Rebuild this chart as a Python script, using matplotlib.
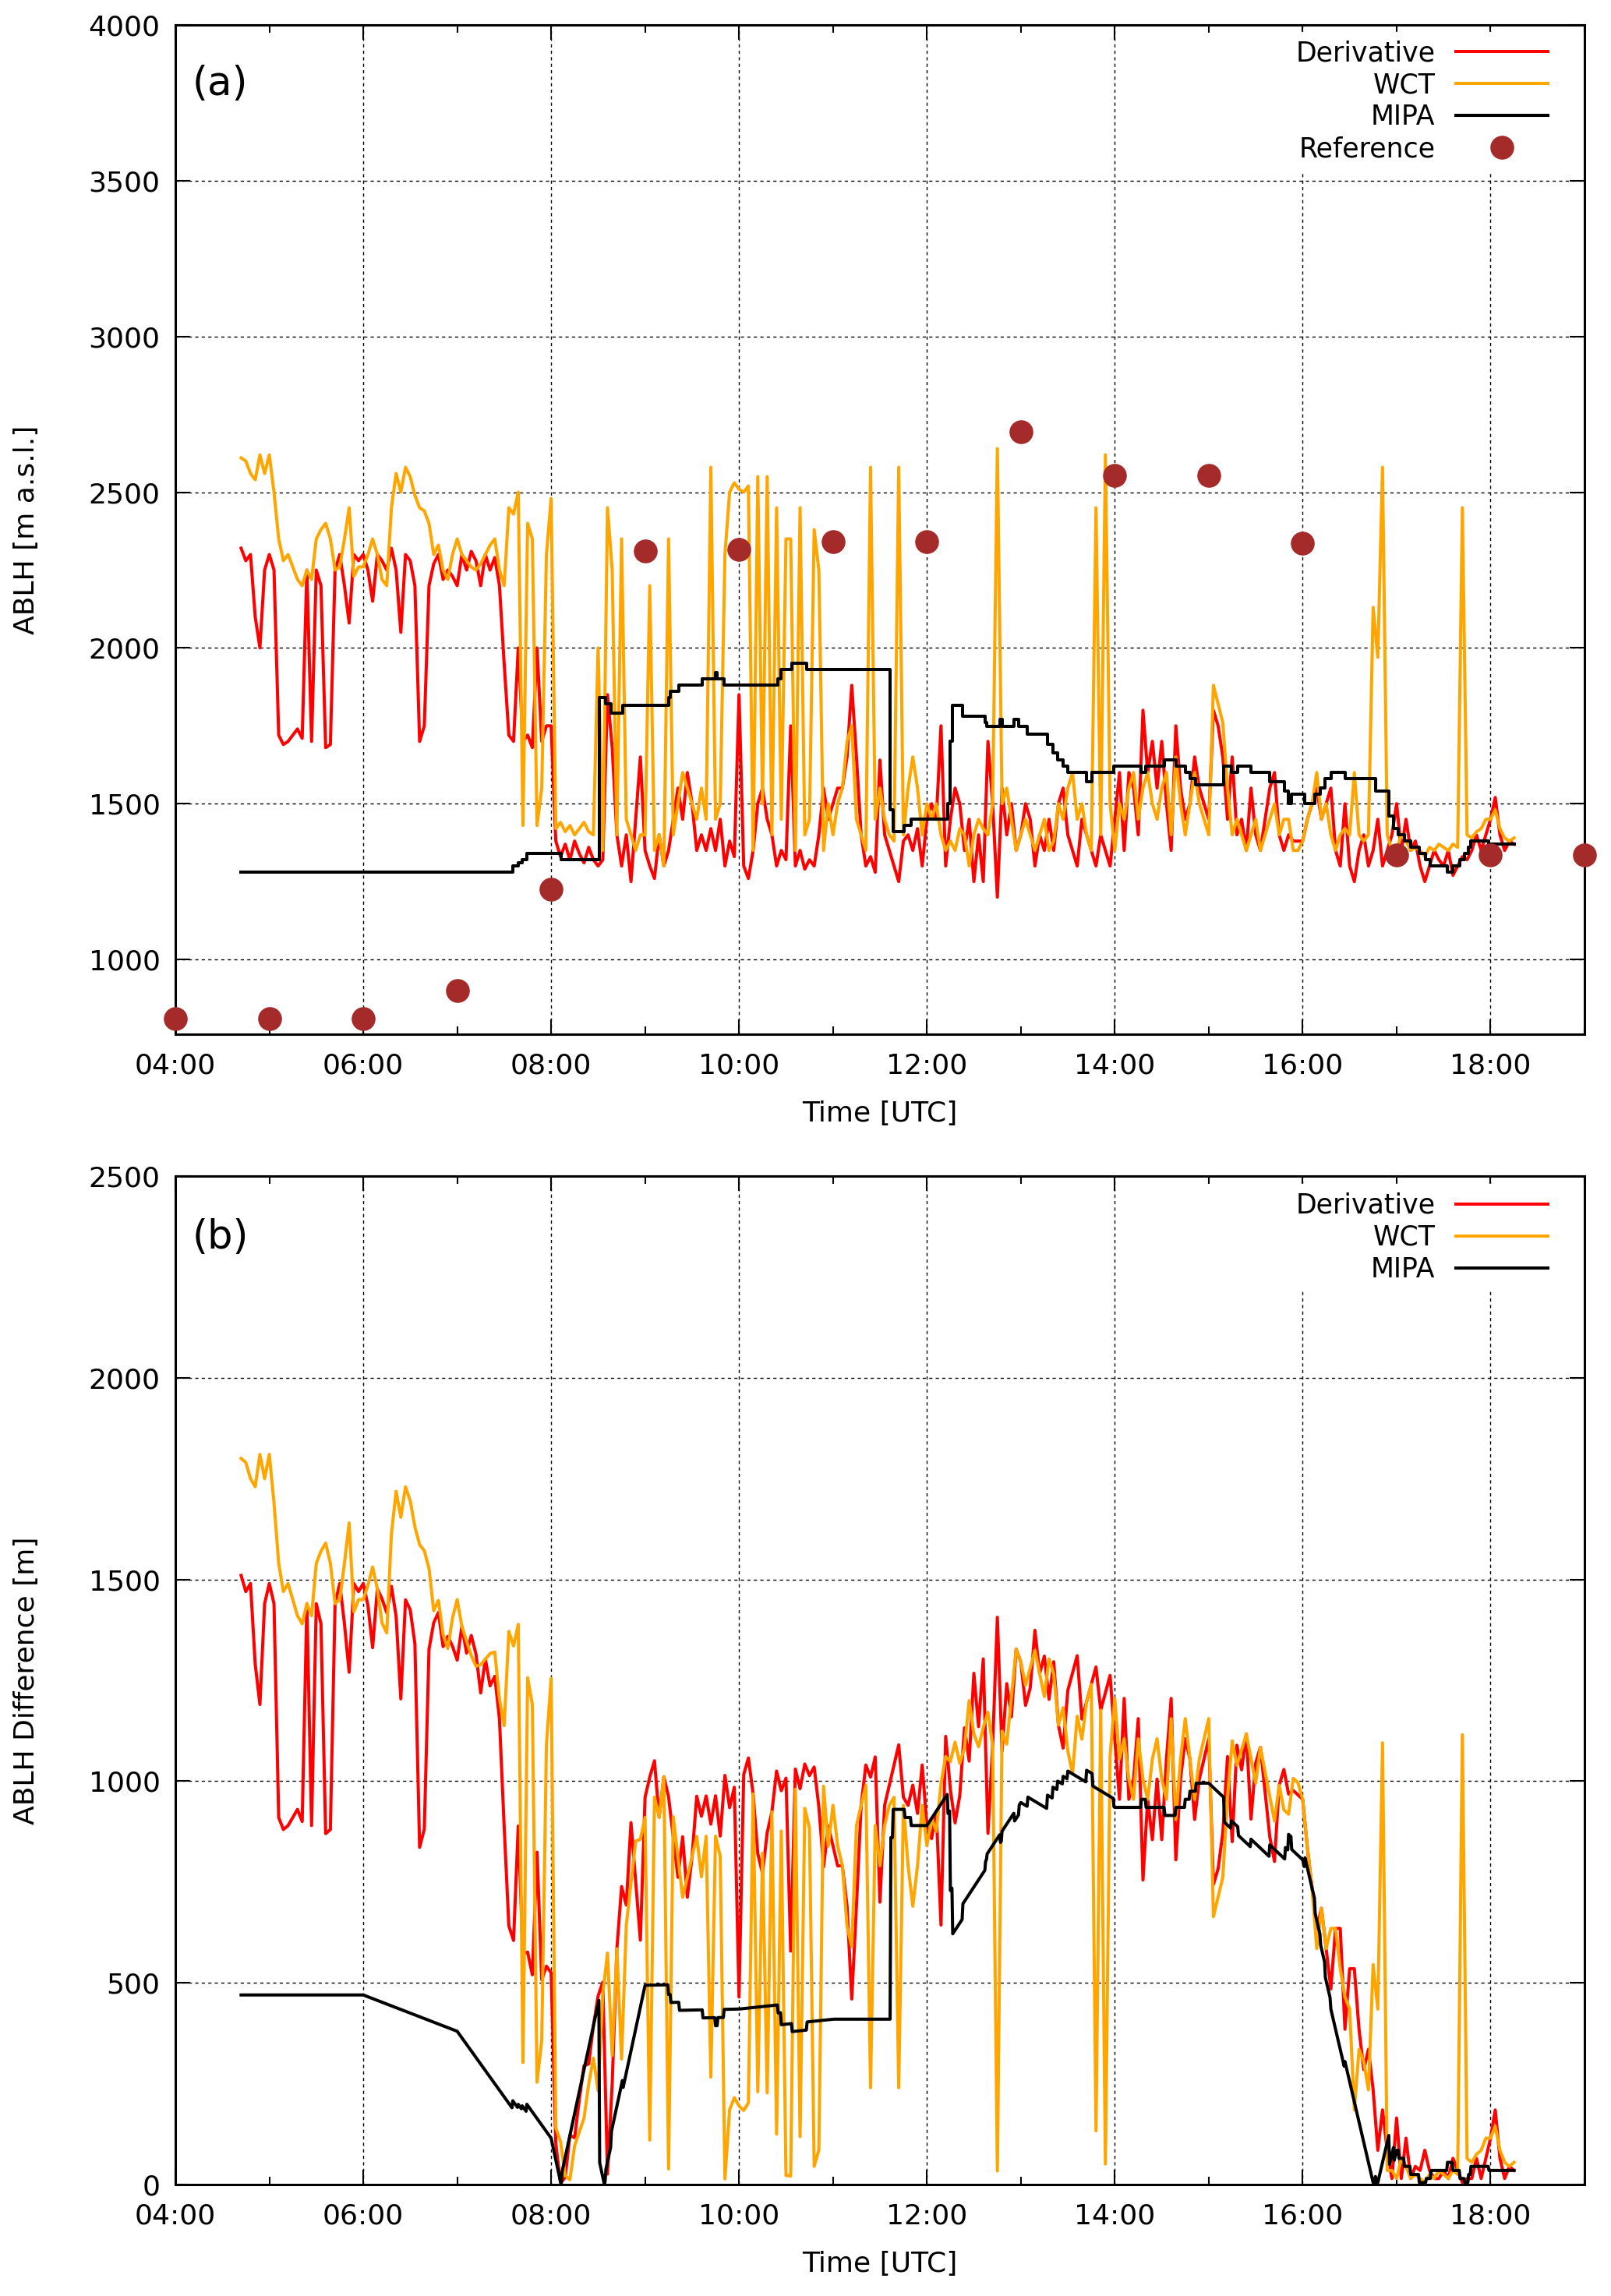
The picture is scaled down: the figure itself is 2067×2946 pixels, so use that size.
import numpy as np
import matplotlib
matplotlib.use("Agg")
import matplotlib.pyplot as plt
from matplotlib.ticker import MultipleLocator, FuncFormatter

# ---------------- data (time in decimal hours UTC) ----------------
sample_start = 4.70   # first lidar sample, 04:42 UTC
sample_step = 0.05    # 3-minute sampling

derivative = [
    # 04:42-04:57
    2320, 2280, 2300, 2100, 2000, 2250,
    # 05
    2300, 2250, 1720, 1690, 1700, 1720, 1740, 1710, 2250, 1700, 2250, 2200, 1680, 1690, 2250, 2300, 2200, 2080, 2300, 2280,
    # 06
    2300, 2250, 2150, 2300, 2280, 2250, 2320, 2250, 2050, 2300, 2280, 2200, 1700, 1750, 2200, 2270, 2300, 2220, 2250, 2230,
    # 07
    2200, 2300, 2250, 2310, 2280, 2200, 2300, 2250, 2290, 2200, 1950, 1720, 1700, 2000, 1700, 1720, 1680, 2000, 1700, 1750,
    # 08
    1750, 1380, 1330, 1370, 1320, 1380, 1340, 1310, 1360, 1320, 1300, 1320, 1850, 1680, 1400, 1300, 1400, 1250, 1450, 1650,
    # 09
    1350, 1300, 1260, 1400, 1300, 1350, 1450, 1550, 1450, 1600, 1500, 1350, 1400, 1350, 1420, 1350, 1450, 1300, 1380, 1330,
    # 10
    1850, 1300, 1260, 1350, 1500, 1550, 1450, 1400, 1300, 1350, 1320, 1750, 1300, 1350, 1290, 1320, 1300, 1400, 1550, 1450,
    # 11
    1500, 1550, 1550, 1650, 1880, 1650, 1400, 1300, 1330, 1280, 1640, 1400, 1350, 1300, 1250, 1380, 1400, 1350, 1420, 1300,
    # 12
    1450, 1500, 1450, 1750, 1300, 1450, 1550, 1500, 1350, 1450, 1250, 1400, 1250, 1700, 1500, 1200, 1550, 1400, 1500, 1350,
    # 13
    1400, 1500, 1450, 1300, 1400, 1350, 1450, 1350, 1500, 1550, 1400, 1350, 1300, 1450, 1400, 1350, 1300, 1400, 1350, 1300,
    # 14
    1450, 1600, 1350, 1600, 1550, 1400, 1800, 1600, 1700, 1550, 1700, 1500, 1350, 1750, 1550, 1450, 1500, 1650, 1550, 1500,
    # 15
    1450, 1800, 1750, 1650, 1450, 1650, 1400, 1450, 1350, 1550, 1400, 1350, 1450, 1550, 1600, 1400, 1350, 1400, 1380, 1380,
    # 16
    1380, 1450, 1500, 1550, 1450, 1500, 1550, 1350, 1300, 1500, 1300, 1250, 1350, 1400, 1300, 1350, 1450, 1300, 1350, 1400,
    # 17
    1500, 1350, 1450, 1350, 1380, 1300, 1250, 1300, 1350, 1320, 1300, 1350, 1270, 1300, 1330, 1320, 1350, 1400, 1350, 1400,
    # 18:00-18:15
    1450, 1520, 1400, 1350, 1380, 1370,
]

wct = [
    # 04:42-04:57
    2610, 2600, 2560, 2540, 2620, 2560,
    # 05
    2620, 2500, 2350, 2280, 2300, 2260, 2220, 2200, 2250, 2220, 2350, 2380, 2400, 2350, 2250, 2260, 2350, 2450, 2230, 2260,
    # 06
    2260, 2300, 2350, 2300, 2220, 2200, 2450, 2560, 2500, 2580, 2550, 2490, 2450, 2440, 2400, 2300, 2330, 2250, 2220, 2300,
    # 07
    2350, 2300, 2280, 2260, 2250, 2270, 2300, 2330, 2350, 2250, 2200, 2450, 2430, 2500, 1430, 2400, 2350, 1430, 1550, 2300,
    # 08
    2480, 1420, 1440, 1410, 1430, 1400, 1420, 1440, 1410, 1400, 2000, 1350, 2450, 2250, 1400, 2350, 1450, 1400, 1350, 1400,
    # 09
    1400, 2200, 1350, 1400, 1300, 2350, 1400, 1500, 1600, 1550, 1500, 1450, 1550, 1450, 2580, 1450, 1500, 2300, 2500, 2530,
    # 10
    2510, 2500, 2520, 1350, 2550, 1500, 2550, 1400, 2450, 1450, 2350, 2350, 1350, 2450, 1400, 1450, 2380, 2250, 1350, 1500,
    # 11
    1400, 1500, 1550, 1700, 1750, 1450, 1400, 1350, 2580, 1450, 1550, 1450, 1400, 1380, 2580, 1400, 1550, 1650, 1550, 1400,
    # 12
    1500, 1450, 1500, 1400, 1350, 1380, 1350, 1420, 1400, 1300, 1400, 1450, 1420, 1400, 1500, 2640, 1500, 1550, 1450, 1350,
    # 13
    1400, 1450, 1400, 1350, 1400, 1450, 1350, 1380, 1500, 1450, 1550, 1600, 1450, 1500, 1400, 1350, 2450, 1400, 2620, 1500,
    # 14
    1350, 1500, 1450, 1550, 1600, 1450, 1550, 1600, 1500, 1450, 1550, 1600, 1400, 1650, 1500, 1400, 1500, 1600, 1500, 1450,
    # 15
    1400, 1880, 1820, 1760, 1550, 1400, 1450, 1400, 1350, 1400, 1450, 1350, 1400, 1450, 1500, 1400, 1450, 1450, 1350, 1350,
    # 16
    1380, 1450, 1500, 1600, 1450, 1500, 1400, 1350, 1400, 1420, 1400, 1600, 1400, 1380, 1400, 2130, 1970, 2580, 1400, 1350,
    # 17
    1350, 1400, 1380, 1350, 1360, 1350, 1330, 1360, 1350, 1370, 1360, 1350, 1370, 1360, 2450, 1400, 1390, 1410, 1420, 1450,
    # 18:00-18:15
    1450, 1480, 1420, 1390, 1380, 1390,
]

# MIPA: piecewise-constant levels, each starting at mipa_t
mipa_t = [4.70, 7.59, 7.65, 7.69, 7.74, 8.11, 8.51, 8.58, 8.64, 8.76,
          9.25, 9.27, 9.36, 9.61, 9.75, 9.77, 9.84, 10.41, 10.45, 10.56,
          10.72, 11.61, 11.64, 11.76, 11.83, 12.22, 12.25, 12.27, 12.38, 12.62,
          12.64, 12.78, 12.80, 12.93, 12.98, 13.07, 13.28, 13.34, 13.39, 13.45,
          13.50, 13.70, 13.76, 13.99, 14.28, 14.33, 14.53, 14.65, 14.75, 14.80,
          14.86, 15.16, 15.24, 15.31, 15.45, 15.65, 15.81, 15.85, 15.88, 16.02,
          16.13, 16.19, 16.24, 16.30, 16.45, 16.78, 16.92, 16.97, 17.02, 17.08,
          17.15, 17.24, 17.31, 17.36, 17.54, 17.60, 17.67, 17.72, 17.76, 17.79,
          17.98, 18.25]
mipa_v = [1280, 1300, 1310, 1320, 1340, 1320, 1840, 1820, 1790, 1816,
          1840, 1860, 1880, 1900, 1920, 1900, 1880, 1900, 1930, 1950,
          1930, 1480, 1410, 1430, 1450, 1500, 1700, 1816, 1780, 1760,
          1748, 1770, 1748, 1770, 1748, 1724, 1690, 1662, 1640, 1620,
          1600, 1570, 1600, 1620, 1600, 1620, 1640, 1620, 1600, 1580,
          1560, 1620, 1600, 1620, 1600, 1570, 1540, 1500, 1530, 1500,
          1530, 1550, 1580, 1600, 1580, 1540, 1460, 1420, 1400, 1380,
          1360, 1340, 1320, 1300, 1280, 1300, 1320, 1340, 1360, 1380,
          1370, 1370]

# Reference (radiosonde) ABLH
ref_t = [4, 5, 6, 7, 8, 9, 10, 11, 12, 13, 14, 15, 16, 17, 18, 19]
ref_v = [810, 810, 810, 900, 1225, 2310, 2315, 2340, 2340, 2695, 2555, 2555, 2335, 1335, 1335, 1335]

xtick_hours = [4, 6, 8, 10, 12, 14, 16, 18]

# ---------------- derived quantities ----------------
t = sample_start + sample_step * np.arange(len(derivative))
der = np.array(derivative, dtype=float)
wc = np.array(wct, dtype=float)
ref_on_t = np.interp(t, ref_t, ref_v)
der_diff = np.abs(der - ref_on_t)
wct_diff = np.abs(wc - ref_on_t)

# MIPA evaluated on a fine time axis for the difference panel
tt = np.arange(mipa_t[0], mipa_t[-1] + 1e-9, 1.0 / 120.0)
idx = np.searchsorted(mipa_t, tt, side='right') - 1
mipa_dense = np.array(mipa_v, dtype=float)[idx]
mipa_diff = np.abs(mipa_dense - np.interp(tt, ref_t, ref_v))

# ---------------- figure ----------------
RED = '#ff0000'
ORANGE = '#ffa500'
BROWN = '#a52a2a'
LW = 2.9

fig = plt.figure(figsize=(20.67, 29.46), dpi=100)
axa = fig.add_axes([0.10885, 0.54956, 0.87470, 0.43958])
axb = fig.add_axes([0.10885, 0.04854, 0.87470, 0.43924])

fmt = FuncFormatter(lambda x, p: f"{int(round(x)):02d}:00")

for ax in (axa, axb):
    ax.set_xlim(4, 19)
    ax.set_xticks(xtick_hours)
    ax.xaxis.set_minor_locator(MultipleLocator(1))
    ax.xaxis.set_major_formatter(fmt)
    ax.tick_params(which='both', direction='in', top=True, right=True, width=1.5)
    ax.tick_params(which='major', length=14, labelsize=26)
    ax.tick_params(which='minor', length=7)
    ax.tick_params(axis='x', which='major', pad=17)
    ax.tick_params(axis='y', which='major', pad=14)
    ax.grid(True, which='major', color='black', lw=1.0, ls=(0, (3, 3)))
    ax.set_axisbelow(True)
    for s in ax.spines.values():
        s.set_linewidth(2.2)
    ax.set_xlabel('Time [UTC]', fontsize=26)
    ax.xaxis.set_label_coords(0.5, -0.066)

# ---- panel (a)
axa.plot(t, der, color=RED, lw=LW, label='Derivative', zorder=3)
axa.plot(t, wc, color=ORANGE, lw=LW, label='WCT', zorder=4)
axa.plot(mipa_t, mipa_v, color='black', lw=LW, drawstyle='steps-post', label='MIPA', zorder=5)
axa.plot(ref_t, ref_v, 'o', color=BROWN, ms=21, label='Reference', zorder=6, clip_on=False)
axa.set_ylim(760, 4000)
axa.set_yticks([1000, 1500, 2000, 2500, 3000, 3500, 4000])
axa.set_ylabel('ABLH [m a.s.l.]', fontsize=26)
axa.yaxis.set_label_coords(-0.096, 0.5)
axa.text(0.012, 0.941, '(a)', transform=axa.transAxes, fontsize=37, ha='left', va='center')

leg_kw = dict(loc='upper right', fontsize=25, markerfirst=False, handlelength=3.4,
              handletextpad=0.75, labelspacing=0.2, borderpad=0.3, borderaxespad=0,
              frameon=True, fancybox=False, framealpha=1, facecolor='white',
              edgecolor='white', numpoints=1)
axa.legend(bbox_to_anchor=(0.9796, 0.993), **leg_kw)

# ---- panel (b)
axb.plot(t, der_diff, color=RED, lw=LW, label='Derivative', zorder=3)
axb.plot(t, wct_diff, color=ORANGE, lw=LW, label='WCT', zorder=4)
axb.plot(tt, mipa_diff, color='black', lw=LW, label='MIPA', zorder=5)
axb.set_ylim(0, 2500)
axb.set_yticks([0, 500, 1000, 1500, 2000, 2500])
axb.set_ylabel('ABLH Difference [m]', fontsize=26)
axb.yaxis.set_label_coords(-0.096, 0.5)
axb.text(0.012, 0.939, '(b)', transform=axb.transAxes, fontsize=37, ha='left', va='center')
axb.legend(bbox_to_anchor=(0.9796, 0.992), **leg_kw)

fig.savefig('out.png', dpi=100)
